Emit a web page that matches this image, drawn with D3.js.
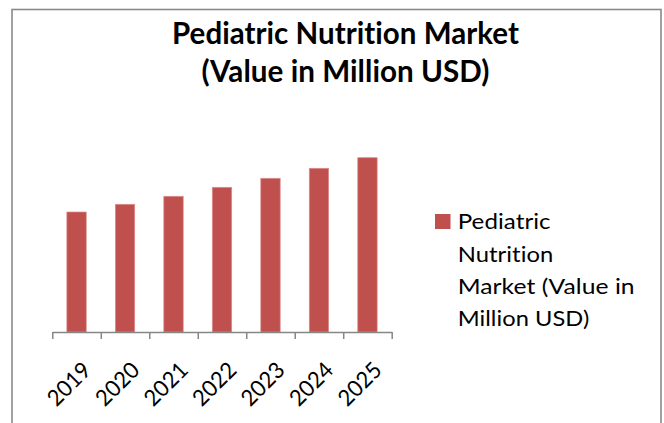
<!DOCTYPE html>
<html>
<head>
<meta charset="utf-8">
<script src="https://cdn.jsdelivr.net/npm/d3@7"></script>
<style>
  html, body { margin: 0; padding: 0; background: #fff; }
  svg { display: block; }
  text { font-family: Lato, "Open Sans", "DejaVu Sans", sans-serif; fill: #000;
         font-variant-ligatures: none; font-feature-settings: "liga" 0, "clig" 0, "dlig" 0, "calt" 0;
         letter-spacing: 0.05px; }
</style>
</head>
<body>
<svg id="chart" width="664" height="423"></svg>
<script>
// ---- data ----
const years = ["2019", "2020", "2021", "2022", "2023", "2024", "2025"];
const values = [120, 127.7, 135.7, 144.7, 153.7, 163.7, 174.3];
const seriesName = "Pediatric Nutrition Market (Value in Million USD)";
const titleLines = ["Pediatric Nutrition Market", "(Value in Million USD)"];
const legendLines = ["Pediatric", "Nutrition", "Market (Value in", "Million USD)"];

const barColor = "#C0504D";
const axisColor = "#868686";

const svg = d3.select("#chart");

// fit text width helper
function fitWidth(sel, w) {
  sel.each(function() {
    const len = this.getComputedTextLength();
    if (Math.abs(len - w) / w > 0.01) {
      d3.select(this).attr("textLength", w).attr("lengthAdjust", "spacingAndGlyphs");
    }
  });
}

// chart frame
svg.append("rect")
  .attr("x", 12).attr("y", 9.5)
  .attr("width", 649).attr("height", 430)
  .attr("fill", "#fff")
  .attr("stroke", "#8a8a8a").attr("stroke-width", 1.6);

// title
const titleWidths = [347, 288];
const titleBaselines = [44.3, 81.7];
titleLines.forEach((t, i) => {
  svg.append("text")
    .attr("x", 345.5).attr("y", titleBaselines[i])
    .attr("text-anchor", "middle")
    .attr("font-size", 30.5).attr("font-weight", "bold")
    .text(t)
    .call(fitWidth, titleWidths[i]);
});

// scales
const x0 = 52.3, x1 = 391.7, yBase = 332;
const x = d3.scaleBand().domain(years).range([x0, x1]).paddingInner(0.6).paddingOuter(0.3);
const y = d3.scaleLinear().domain([0, 200]).range([yBase, yBase - 200]);
const tickPos = d3.scaleLinear().domain([0, years.length]).range([x0, x1]);

// bars
svg.append("g").selectAll("rect")
  .data(values)
  .join("rect")
  .attr("x", (d, i) => x(years[i]))
  .attr("y", d => y(d))
  .attr("width", x.bandwidth())
  .attr("height", d => yBase - y(d))
  .attr("fill", barColor)
  .attr("stroke", "#dc8e8c").attr("stroke-width", 0.7);

// axis
const axisG = svg.append("g")
  .attr("transform", `translate(0,${yBase})`)
  .call(d3.axisBottom(tickPos).tickValues(d3.range(years.length + 1)).tickSize(7).tickSizeOuter(0).tickFormat(""));
axisG.select(".domain").attr("stroke", axisColor).attr("stroke-width", 1.5);
axisG.selectAll(".tick line").attr("stroke", axisColor).attr("stroke-width", 1.5);

// rotated tick labels
const capH = 0.7165 * 22.5;
svg.append("g").selectAll("text")
  .data(years)
  .join("text")
  .attr("text-anchor", "end")
  .attr("font-size", 22.5)
  .attr("transform", d => {
    const cx = x(d) + x.bandwidth() / 2 + 4.5 + 0.707 * capH;
    const cy = 360 + 0.707 * capH;
    return `translate(${cx},${cy}) rotate(-45)`;
  })
  .text(d => d)
  .call(fitWidth, 51);

// legend
const lg = svg.append("g");
lg.append("rect")
  .attr("x", 435).attr("y", 214)
  .attr("width", 15.5).attr("height", 15)
  .attr("fill", barColor);
const legendWidths = [93, 95.6, 177, 131.6];
const legendBaselines = [229.3, 262, 294.3, 325.5];
legendLines.forEach((t, i) => {
  lg.append("text")
    .attr("x", 457.7).attr("y", legendBaselines[i])
    .attr("font-size", 22)
    .text(t)
    .call(fitWidth, legendWidths[i]);
});
</script>
</body>
</html>
